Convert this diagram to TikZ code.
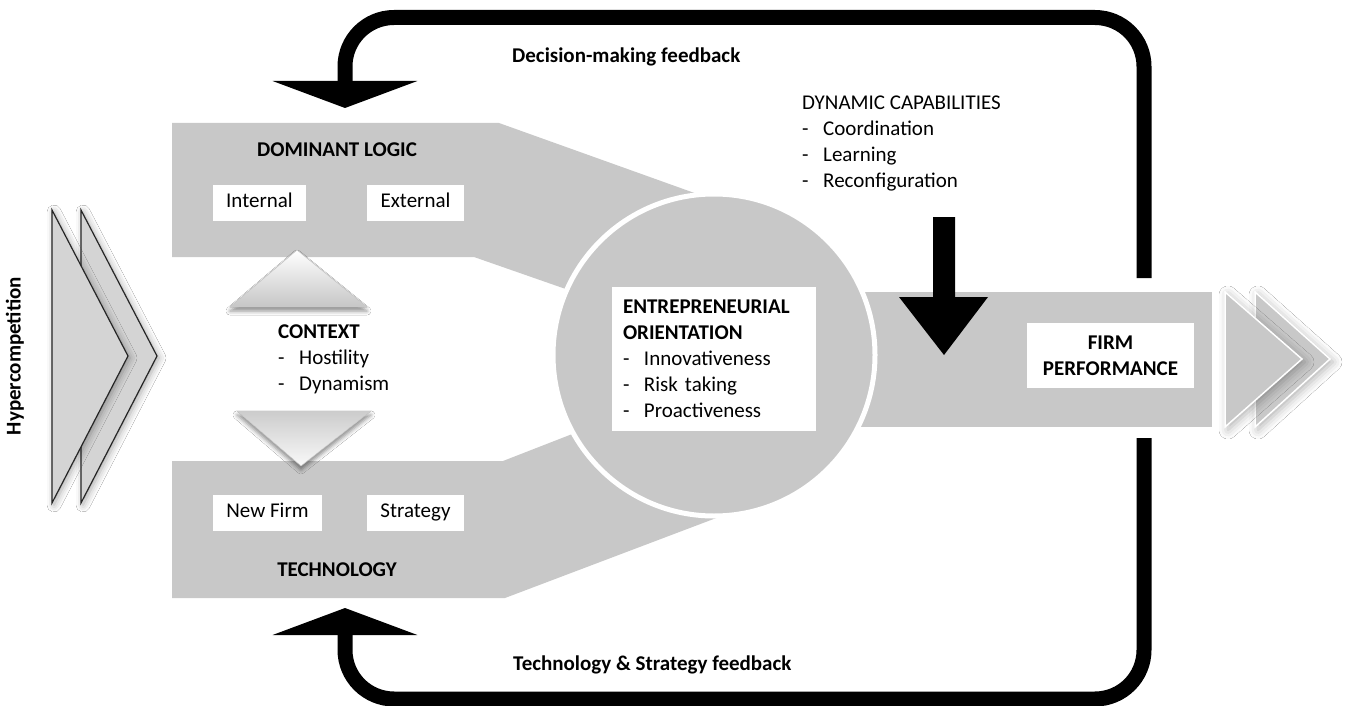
\documentclass[tikz,border=0pt]{standalone}
\usepackage{fontspec}
\setmainfont{Carlito}
\usetikzlibrary{arrows.meta,shadows.blur}
\definecolor{bandgray}{RGB}{200,200,200}
\definecolor{chevgray}{RGB}{212,212,212}
\newcommand{\dashitem}[1]{\makebox[21pt][l]{-}#1}

\begin{document}
\begin{tikzpicture}[x=1pt,y=-1pt,
    every node/.style={font=\fontsize{21}{26}\selectfont},
    head/.style={font=\fontsize{21}{26}\selectfont\bfseries},
    band/.style={fill=bandgray},
    wbox/.style={fill=white,inner sep=0pt,minimum height=36pt,text height=14pt,text depth=4pt},
    loopline/.style={line width=15pt,rounded corners=49pt},
    bigtip/.style={-{Triangle[width=144pt,length=27pt]}},
    chevleft/.style={fill=chevgray,draw=black!85,line width=1.2pt,
      blur shadow={shadow xshift=2pt,shadow yshift=-2pt,shadow blur radius=7pt,shadow opacity=35}},
    chevright/.style={fill=bandgray,draw=white,line width=1.5pt,
      blur shadow={shadow xshift=3pt,shadow yshift=-3pt,shadow blur radius=9pt,shadow opacity=30}},
    ctxtri/.style={draw=gray!40,line width=0.6pt,
      blur shadow={shadow xshift=0pt,shadow yshift=-4pt,shadow blur radius=4pt,shadow opacity=45}}]
    \fill[white] (0,0) rectangle (1355,706);
    \useasboundingbox (0,0) rectangle (1355,706);

    \coordinate (fbtop) at (1144,278);
    \coordinate (fbbot) at (1144,438);
    \coordinate (dlhead) at (345,108);
    \coordinate (tchead) at (345,608);
    \draw[loopline,bigtip] (fbtop) -- (1144,17.5) -- (345,17.5) -- (dlhead);
    \draw[loopline,bigtip] (fbbot) -- (1144,699) -- (345,699) -- (tchead);

    \fill[band] (172,123) -- (499,123) -- (714,200) -- (714,300) -- (580,294) -- (474,257) -- (172,257) -- cycle;
    \fill[band] (172,461) -- (503,461) -- (580,431) -- (714,400) -- (740,509) -- (505,598) -- (172,598) -- cycle;
    \fill[band] (800,292) rectangle (1212,427);
    \node[circle,fill=bandgray,draw=white,line width=5pt,minimum size=322pt] (eocirc) at (714,355) {};

    \node[head] (dl) at (337,150) {DOMINANT LOGIC};
    \node[wbox,minimum width=93pt] (internal) at (259.5,202.5) {Internal};
    \node[wbox,minimum width=97pt] (external) at (415.5,202.5) {External};
    \node[wbox,minimum width=109pt] (newfirm) at (267.5,512.5) {New Firm};
    \node[wbox,minimum width=97pt] (strategy) at (415.5,512.5) {Strategy};
    \node[head] (tech) at (337,570) {TECHNOLOGY};

    \filldraw[ctxtri,top color=white,bottom color=gray!45] (230,307) -- (297,250) -- (367,307) -- cycle;
    \filldraw[ctxtri,top color=gray!40,bottom color=gray!5] (237,411) -- (371,411) -- (301,466) -- cycle;
    \node[align=left,anchor=north west,inner sep=0pt] (context) at (278,325)
      {\textbf{CONTEXT}\\\dashitem{Hostility}\\\dashitem{Dynamism}};

    \node[fill=white,minimum width=204pt,minimum height=144pt,text width=182pt,align=left] (eo) at (714,359)
      {\textbf{ENTREPRENEURIAL}\\\textbf{ORIENTATION}\\\dashitem{Innovativeness}\\\dashitem{Risk taking}\\\dashitem{Proactiveness}};

    \node[head,fill=white,minimum width=167pt,minimum height=65pt,align=center] (perf) at (1110.5,355.5)
      {FIRM\\PERFORMANCE};

    \node[align=left,anchor=north west,inner sep=0pt] (dyncap) at (802,96)
      {DYNAMIC CAPABILITIES\\\dashitem{Coordination}\\\dashitem{Learning}\\\dashitem{Reconfiguration}};
    \coordinate (dcstart) at (944,217);
    \coordinate (dchead) at (944,355);
    \fill (dcstart) ++(-11,0) -- ++(22,0) -- (955,297) -- (988,297) -- (dchead) -- (899,297) -- (933,297) -- cycle;

    \node[head,anchor=west,inner sep=0pt] (dmfb) at (512,57) {Decision-making feedback};
    \node[head,anchor=west,inner sep=0pt] (tsfb) at (513,665) {Technology \& Strategy feedback};

    \filldraw[chevleft] (81,210) -- (157,356) -- (81,503) -- cycle;
    \filldraw[chevleft] (52,210) -- (128,356) -- (52,503) -- cycle;
    \node[head,rotate=90] (hyper) at (15,356) {Hypercompetition};

    \filldraw[chevright] (1255,292) -- (1330,359) -- (1255,427) -- cycle;
    \filldraw[chevright] (1225,292) -- (1302,359) -- (1225,427) -- cycle;
\end{tikzpicture}
\end{document}
